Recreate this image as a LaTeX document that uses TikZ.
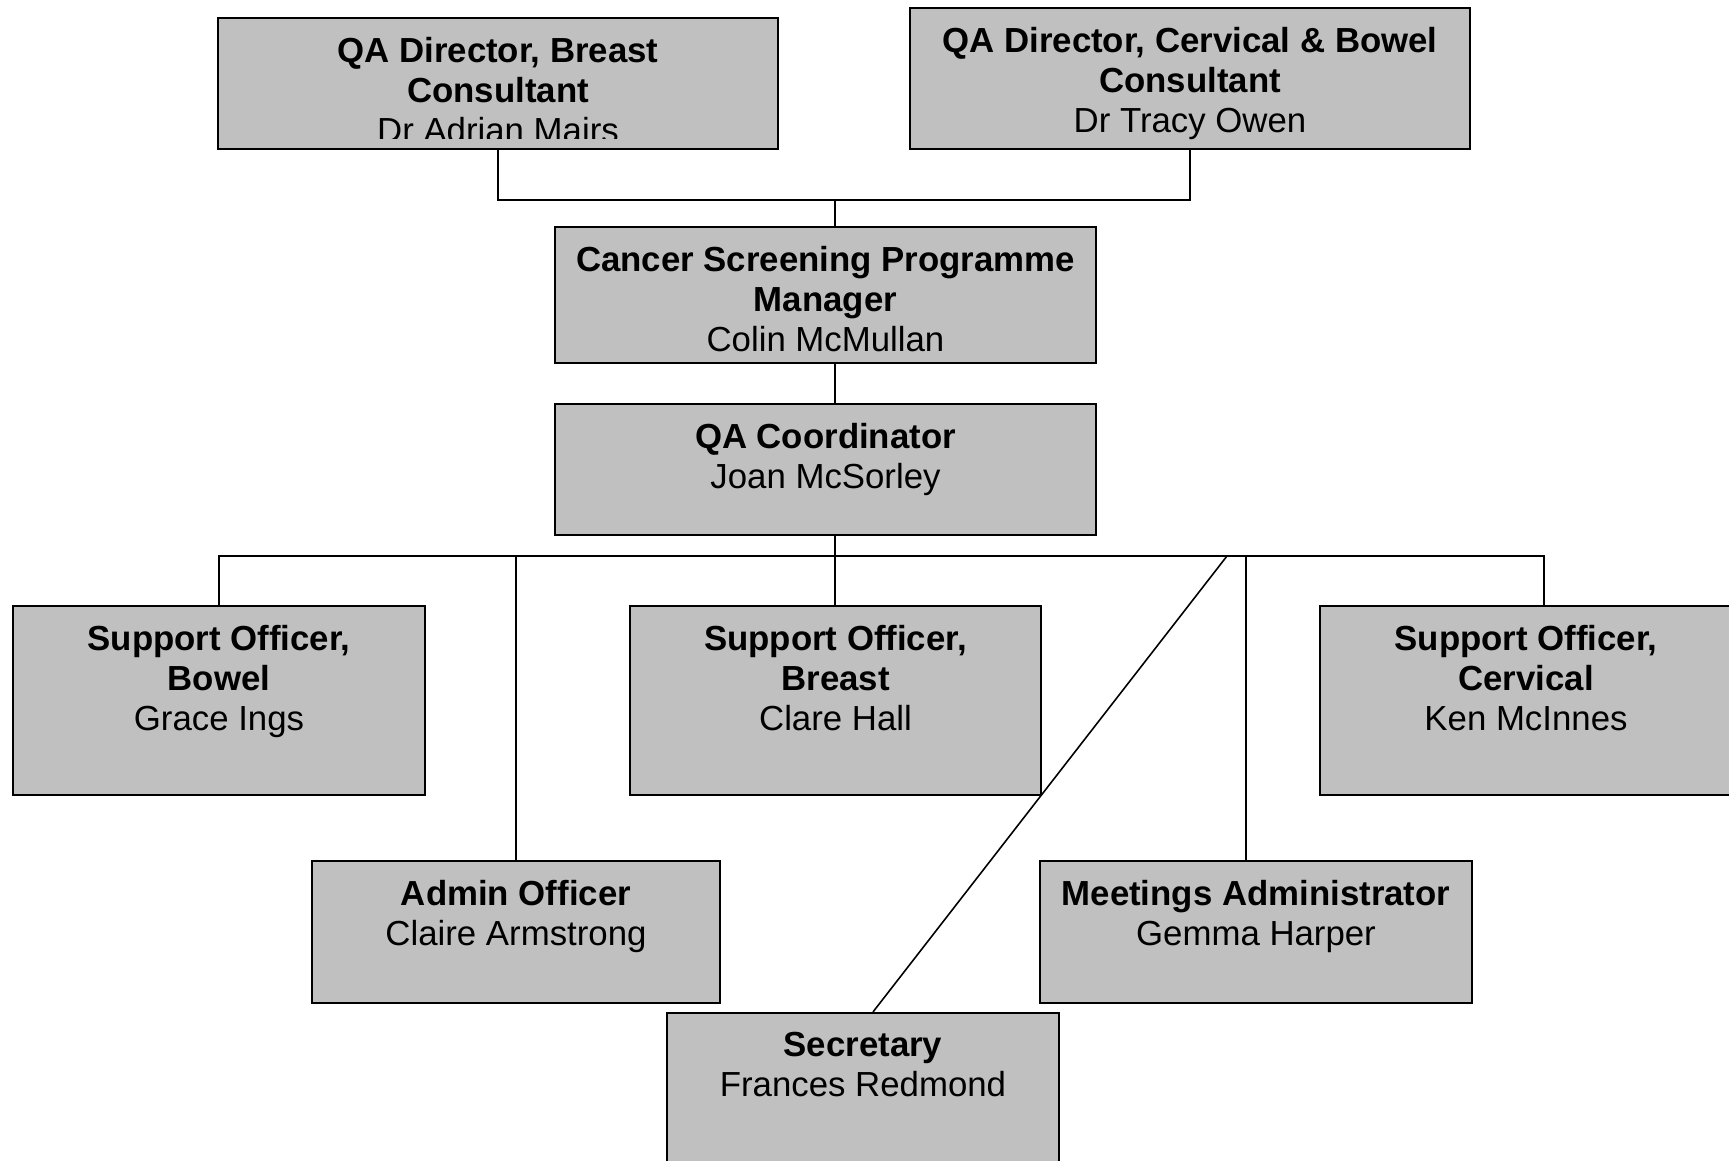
\documentclass[tikz,border=0pt]{standalone}
\usepackage{fontspec}
\setmainfont{Liberation Sans}
\usetikzlibrary{positioning}
\definecolor{postgray}{RGB}{192,192,192}
\tikzset{
	post/.style={draw, line width=0.6pt, fill=postgray, inner sep=0pt},
	title/.style={align=center, inner sep=0pt, font=\fontsize{9.9}{11.4}\selectfont},
	link/.style={draw, line width=0.45pt}
}

\begin{document}
\begin{tikzpicture}
	\useasboundingbox (0,0) rectangle (17.29,-11.61);

	\node[post, minimum width=5.6cm, minimum height=1.31cm] (dirb) at (4.98,-0.835) {};
	\begin{scope}
		\clip (2.18,-0.18) rectangle (7.78,-1.385);
		\node[title, below=0.195cm of dirb.north] (dirb-txt) {\textbf{QA Director, Breast}\\\textbf{Consultant}\\Dr Adrian Mairs};
	\end{scope}

	\node[post, minimum width=5.6cm, minimum height=1.41cm] (dirc) at (11.90,-0.785) {};
	\node[title, below=0.195cm of dirc.north] (dirc-txt) {\textbf{QA Director, Cervical \& Bowel}\\\textbf{Consultant}\\Dr Tracy Owen};

	\node[post, minimum width=5.41cm, minimum height=1.36cm] (mgr) at (8.255,-2.95) {};
	\node[title, below=0.195cm of mgr.north] (mgr-txt) {\textbf{Cancer Screening Programme}\\\textbf{Manager}\\Colin McMullan};

	\node[post, minimum width=5.41cm, minimum height=1.31cm] (coord) at (8.255,-4.695) {};
	\node[title, below=0.195cm of coord.north] (coord-txt) {\textbf{QA Coordinator}\\Joan McSorley};

	\node[post, minimum width=4.12cm, minimum height=1.89cm] (bowel) at (2.19,-7.005) {};
	\node[title, below=0.195cm of bowel.north] (bowel-txt) {\textbf{Support Officer,}\\\textbf{Bowel}\\Grace Ings};

	\node[post, minimum width=4.11cm, minimum height=1.89cm] (breast) at (8.355,-7.005) {};
	\node[title, below=0.195cm of breast.north] (breast-txt) {\textbf{Support Officer,}\\\textbf{Breast}\\Clare Hall};

	\node[post, minimum width=4.12cm, minimum height=1.89cm] (cerv) at (15.26,-7.005) {};
	\node[title, below=0.195cm of cerv.north] (cerv-txt) {\textbf{Support Officer,}\\\textbf{Cervical}\\Ken McInnes};

	\node[post, minimum width=4.08cm, minimum height=1.42cm] (admin) at (5.16,-9.32) {};
	\node[title, below=0.195cm of admin.north] (admin-txt) {\textbf{Admin Officer}\\Claire Armstrong};

	\node[post, minimum width=4.32cm, minimum height=1.42cm] (meet) at (12.56,-9.32) {};
	\node[title, below=0.195cm of meet.north] (meet-txt) {\textbf{Meetings Administrator}\\Gemma Harper};

	\node[post, minimum width=3.92cm, minimum height=1.62cm] (sec) at (8.63,-10.94) {};
	\node[title, below=0.195cm of sec.north] (sec-txt) {\textbf{Secretary}\\Frances Redmond};

	\coordinate (topbus) at (8.35,-2.00);
	\coordinate (midbus) at (8.35,-5.56);
	\coordinate (meetdrop) at (12.46,-5.56);
	\coordinate (secdrop) at (12.27,-5.56);
	\coordinate (cervdrop) at (15.44,-5.56);

	\draw[link] (dirb.south) |- (topbus) -| (dirc.south);
	\draw[link] (topbus) -- (topbus |- mgr.north);
	\draw[link] (topbus |- mgr.south) -- (topbus |- coord.north);
	\draw[link] (midbus |- coord.south) -- (midbus);
	\draw[link] (bowel.north) |- (cervdrop) -- (cervdrop |- cerv.north);
	\draw[link] (admin.north |- midbus) -- (admin.north);
	\draw[link] (midbus) -- (midbus |- breast.north);
	\draw[link] (meetdrop) -- (meetdrop |- meet.north);
	\draw[link] (secdrop) -- ([xshift=0.1cm]sec.north);
\end{tikzpicture}
\end{document}
